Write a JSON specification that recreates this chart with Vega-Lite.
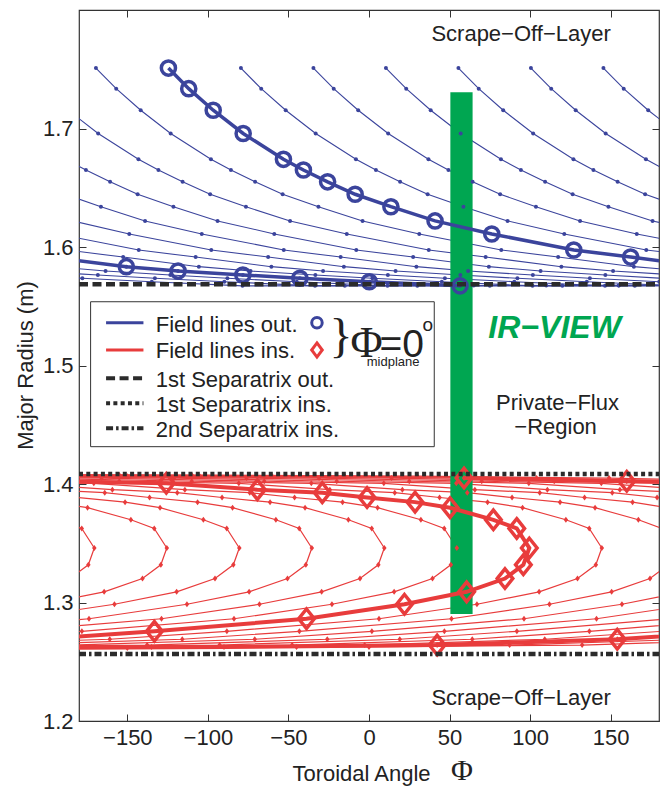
{
"$schema":"https://vega.github.io/schema/vega-lite/v6.json",
"width":580,"height":711,
"autosize":{"type":"none"},
"padding":{"left":79,"top":10,"right":1,"bottom":67},
"background":"white",
"config":{"view":{"stroke":"#333","strokeWidth":1.2}},
"datasets":{
"bt":[
{"c":1,"x":-169.5,"y":1.751},{"c":1,"x":-156.9,"y":1.7336},{"c":1,"x":-141.7,"y":1.7154},{"c":1,"x":-123.1,"y":1.6958},{"c":1,"x":-98.1,"y":1.674},{"c":1,"x":-85.7,"y":1.665},{"c":1,"x":-70.7,"y":1.655},{"c":1,"x":-53.6,"y":1.6445},{"c":1,"x":-31.4,"y":1.634},{"c":1,"x":-4,"y":1.622},{"c":1,"x":31.2,"y":1.611},{"c":1,"x":82.1,"y":1.5975},{"c":1,"x":117.4,"y":1.5915},{"c":1,"x":164.4,"y":1.5834},{"c":1,"x":196.5,"y":1.5797},
{"c":2,"x":-79.5,"y":1.751},{"c":2,"x":-66.9,"y":1.7336},{"c":2,"x":-51.7,"y":1.7154},{"c":2,"x":-33.1,"y":1.6958},{"c":2,"x":-8.1,"y":1.674},{"c":2,"x":4.3,"y":1.665},{"c":2,"x":19.3,"y":1.655},{"c":2,"x":36.4,"y":1.6445},{"c":2,"x":58.6,"y":1.634},{"c":2,"x":86,"y":1.622},{"c":2,"x":121.2,"y":1.611},{"c":2,"x":172.1,"y":1.5975},{"c":2,"x":207.4,"y":1.5915},
{"c":3,"x":-34.5,"y":1.751},{"c":3,"x":-21.9,"y":1.7336},{"c":3,"x":-6.7,"y":1.7154},{"c":3,"x":11.9,"y":1.6958},{"c":3,"x":36.9,"y":1.674},{"c":3,"x":49.3,"y":1.665},{"c":3,"x":64.3,"y":1.655},{"c":3,"x":81.4,"y":1.6445},{"c":3,"x":103.6,"y":1.634},{"c":3,"x":131,"y":1.622},{"c":3,"x":166.2,"y":1.611},{"c":3,"x":217.1,"y":1.5975},
{"c":4,"x":10.5,"y":1.751},{"c":4,"x":23.1,"y":1.7336},{"c":4,"x":38.3,"y":1.7154},{"c":4,"x":56.9,"y":1.6958},{"c":4,"x":81.9,"y":1.674},{"c":4,"x":94.3,"y":1.665},{"c":4,"x":109.3,"y":1.655},{"c":4,"x":126.4,"y":1.6445},{"c":4,"x":148.6,"y":1.634},{"c":4,"x":176,"y":1.622},{"c":4,"x":211.2,"y":1.611},
{"c":5,"x":55.5,"y":1.751},{"c":5,"x":68.1,"y":1.7336},{"c":5,"x":83.3,"y":1.7154},{"c":5,"x":101.9,"y":1.6958},{"c":5,"x":126.9,"y":1.674},{"c":5,"x":139.3,"y":1.665},{"c":5,"x":154.3,"y":1.655},{"c":5,"x":171.4,"y":1.6445},{"c":5,"x":193.6,"y":1.634},
{"c":6,"x":100.5,"y":1.751},{"c":6,"x":113.1,"y":1.7336},{"c":6,"x":128.3,"y":1.7154},{"c":6,"x":146.9,"y":1.6958},{"c":6,"x":171.9,"y":1.674},{"c":6,"x":184.3,"y":1.665},
{"c":7,"x":145.5,"y":1.751},{"c":7,"x":158.1,"y":1.7336},{"c":7,"x":173.3,"y":1.7154},{"c":7,"x":191.9,"y":1.6958},
{"c":8,"x":-186.7,"y":1.7154},{"c":8,"x":-168.1,"y":1.6958},{"c":8,"x":-143.1,"y":1.674},{"c":8,"x":-130.7,"y":1.665},{"c":8,"x":-115.7,"y":1.655},{"c":8,"x":-98.6,"y":1.6445},{"c":8,"x":-76.4,"y":1.634},{"c":8,"x":-49,"y":1.622},{"c":8,"x":-13.8,"y":1.611},{"c":8,"x":37.1,"y":1.5975},{"c":8,"x":72.4,"y":1.5915},{"c":8,"x":119.4,"y":1.5834},{"c":8,"x":151.5,"y":1.5797},{"c":8,"x":191.7,"y":1.5764},
{"c":9,"x":-188.1,"y":1.674},{"c":9,"x":-175.7,"y":1.665},{"c":9,"x":-160.7,"y":1.655},{"c":9,"x":-143.6,"y":1.6445},{"c":9,"x":-121.4,"y":1.634},{"c":9,"x":-94,"y":1.622},{"c":9,"x":-58.8,"y":1.611},{"c":9,"x":-7.9,"y":1.5975},{"c":9,"x":27.4,"y":1.5915},{"c":9,"x":74.4,"y":1.5834},{"c":9,"x":106.5,"y":1.5797},{"c":9,"x":146.7,"y":1.5764},{"c":9,"x":182.1,"y":1.5736},
{"c":10,"x":-188.6,"y":1.6445},{"c":10,"x":-166.4,"y":1.634},{"c":10,"x":-139,"y":1.622},{"c":10,"x":-103.8,"y":1.611},{"c":10,"x":-52.9,"y":1.5975},{"c":10,"x":-17.6,"y":1.5915},{"c":10,"x":29.4,"y":1.5834},{"c":10,"x":61.5,"y":1.5797},{"c":10,"x":101.7,"y":1.5764},{"c":10,"x":137.1,"y":1.5736},{"c":10,"x":180.2,"y":1.5707},
{"c":11,"x":-184,"y":1.622},{"c":11,"x":-148.8,"y":1.611},{"c":11,"x":-97.9,"y":1.5975},{"c":11,"x":-62.6,"y":1.5915},{"c":11,"x":-15.6,"y":1.5834},{"c":11,"x":16.5,"y":1.5797},{"c":11,"x":56.7,"y":1.5764},{"c":11,"x":92.1,"y":1.5736},{"c":11,"x":135.2,"y":1.5707},{"c":11,"x":191.5,"y":1.5672},
{"c":12,"x":-193.8,"y":1.611},{"c":12,"x":-142.9,"y":1.5975},{"c":12,"x":-107.6,"y":1.5915},{"c":12,"x":-60.6,"y":1.5834},{"c":12,"x":-28.5,"y":1.5797},{"c":12,"x":11.7,"y":1.5764},{"c":12,"x":47.1,"y":1.5736},{"c":12,"x":90.2,"y":1.5707},{"c":12,"x":146.5,"y":1.5672},{"c":12,"x":210,"y":1.5674},
{"c":13,"x":-187.9,"y":1.5975},{"c":13,"x":-152.6,"y":1.5915},{"c":13,"x":-105.6,"y":1.5834},{"c":13,"x":-73.5,"y":1.5797},{"c":13,"x":-33.3,"y":1.5764},{"c":13,"x":2.1,"y":1.5736},{"c":13,"x":45.2,"y":1.5707},{"c":13,"x":101.5,"y":1.5672},{"c":13,"x":165,"y":1.5674},{"c":13,"x":245,"y":1.5675},
{"c":14,"x":-197.6,"y":1.5915},{"c":14,"x":-150.6,"y":1.5834},{"c":14,"x":-118.5,"y":1.5797},{"c":14,"x":-78.3,"y":1.5764},{"c":14,"x":-42.9,"y":1.5736},{"c":14,"x":0.2,"y":1.5707},{"c":14,"x":56.5,"y":1.5672},{"c":14,"x":120,"y":1.5674},{"c":14,"x":200,"y":1.5675},
{"c":15,"x":-195.6,"y":1.5834},{"c":15,"x":-163.5,"y":1.5797},{"c":15,"x":-123.3,"y":1.5764},{"c":15,"x":-87.9,"y":1.5736},{"c":15,"x":-44.8,"y":1.5707},{"c":15,"x":11.5,"y":1.5672},{"c":15,"x":75,"y":1.5674},{"c":15,"x":155,"y":1.5675},{"c":15,"x":245,"y":1.5676},
{"c":16,"x":-208.5,"y":1.5797},{"c":16,"x":-168.3,"y":1.5764},{"c":16,"x":-132.9,"y":1.5736},{"c":16,"x":-89.8,"y":1.5707},{"c":16,"x":-33.5,"y":1.5672},{"c":16,"x":30,"y":1.5674},{"c":16,"x":110,"y":1.5675},{"c":16,"x":200,"y":1.5676},
{"c":17,"x":-213.3,"y":1.5764},{"c":17,"x":-177.9,"y":1.5736},{"c":17,"x":-134.8,"y":1.5707},{"c":17,"x":-78.5,"y":1.5672},{"c":17,"x":-15,"y":1.5674},{"c":17,"x":65,"y":1.5675},{"c":17,"x":155,"y":1.5676},{"c":17,"x":265,"y":1.5676}
],
"bk":[
{"c":"m","x":-124.5,"y":1.751},{"c":"m","x":-111.9,"y":1.7336},{"c":"m","x":-96.7,"y":1.7154},{"c":"m","x":-78.1,"y":1.6958},{"c":"m","x":-53.1,"y":1.674},{"c":"m","x":-40.7,"y":1.665},{"c":"m","x":-25.7,"y":1.655},{"c":"m","x":-8.6,"y":1.6445},{"c":"m","x":13.6,"y":1.634},{"c":"m","x":41,"y":1.622},{"c":"m","x":76.2,"y":1.611},{"c":"m","x":127.1,"y":1.5975},{"c":"m","x":162.4,"y":1.5915},{"c":"m","x":209.4,"y":1.5834},
{"c":"w","x":-197.6,"y":1.5915},{"c":"w","x":-150.6,"y":1.5834},{"c":"w","x":-118.5,"y":1.5797},{"c":"w","x":-78.3,"y":1.5764},{"c":"w","x":-42.9,"y":1.5736},{"c":"w","x":0.2,"y":1.5707},{"c":"w","x":56.5,"y":1.5672}
],
"rt":[
{"c":1,"i":1,"x":-192.8,"y":1.3698},{"c":1,"i":2,"x":-178.3,"y":1.3625},{"c":1,"i":3,"x":-170.5,"y":1.346},{"c":1,"i":4,"x":-174.2,"y":1.3318},{"c":1,"i":5,"x":-185.6,"y":1.3202},
{"c":2,"i":1,"x":-196.4,"y":1.3847},{"c":2,"i":2,"x":-174.7,"y":1.38},{"c":2,"i":3,"x":-147.8,"y":1.3698},{"c":2,"i":4,"x":-133.3,"y":1.3625},{"c":2,"i":5,"x":-125.5,"y":1.346},{"c":2,"i":6,"x":-129.2,"y":1.3318},{"c":2,"i":7,"x":-140.6,"y":1.3202},{"c":2,"i":8,"x":-164.4,"y":1.309},{"c":2,"i":9,"x":-203,"y":1.2985},
{"c":3,"i":1,"x":-181.2,"y":1.3886},{"c":3,"i":2,"x":-151.4,"y":1.3847},{"c":3,"i":3,"x":-129.7,"y":1.38},{"c":3,"i":4,"x":-102.8,"y":1.3698},{"c":3,"i":5,"x":-88.3,"y":1.3625},{"c":3,"i":6,"x":-80.5,"y":1.346},{"c":3,"i":7,"x":-84.2,"y":1.3318},{"c":3,"i":8,"x":-95.6,"y":1.3202},{"c":3,"i":9,"x":-119.4,"y":1.309},{"c":3,"i":10,"x":-158,"y":1.2985},{"c":3,"i":11,"x":-218.8,"y":1.2863},
{"c":4,"i":1,"x":-204.3,"y":1.3952},{"c":4,"i":2,"x":-164,"y":1.3927},{"c":4,"i":3,"x":-136.2,"y":1.3886},{"c":4,"i":4,"x":-106.4,"y":1.3847},{"c":4,"i":5,"x":-84.7,"y":1.38},{"c":4,"i":6,"x":-57.8,"y":1.3698},{"c":4,"i":7,"x":-43.3,"y":1.3625},{"c":4,"i":8,"x":-35.5,"y":1.346},{"c":4,"i":9,"x":-39.2,"y":1.3318},{"c":4,"i":10,"x":-50.6,"y":1.3202},{"c":4,"i":11,"x":-74.4,"y":1.309},{"c":4,"i":12,"x":-113,"y":1.2985},{"c":4,"i":13,"x":-173.8,"y":1.2863},{"c":4,"i":14,"x":-268.2,"y":1.2757},
{"c":5,"i":1,"x":-215.8,"y":1.4006},{"c":5,"i":2,"x":-159.3,"y":1.3952},{"c":5,"i":3,"x":-119,"y":1.3927},{"c":5,"i":4,"x":-91.2,"y":1.3886},{"c":5,"i":5,"x":-61.4,"y":1.3847},{"c":5,"i":6,"x":-39.7,"y":1.38},{"c":5,"i":7,"x":-12.8,"y":1.3698},{"c":5,"i":8,"x":1.7,"y":1.3625},{"c":5,"i":9,"x":9.5,"y":1.346},{"c":5,"i":10,"x":5.8,"y":1.3318},{"c":5,"i":11,"x":-5.6,"y":1.3202},{"c":5,"i":12,"x":-29.4,"y":1.309},{"c":5,"i":13,"x":-68,"y":1.2985},{"c":5,"i":14,"x":-128.8,"y":1.2863},{"c":5,"i":15,"x":-223.2,"y":1.2757},
{"c":6,"i":1,"x":-245,"y":1.4023},{"c":6,"i":2,"x":-170.8,"y":1.4006},{"c":6,"i":3,"x":-114.3,"y":1.3952},{"c":6,"i":4,"x":-74,"y":1.3927},{"c":6,"i":5,"x":-46.2,"y":1.3886},{"c":6,"i":6,"x":-16.4,"y":1.3847},{"c":6,"i":7,"x":5.3,"y":1.38},{"c":6,"i":8,"x":32.2,"y":1.3698},{"c":6,"i":9,"x":46.7,"y":1.3625},{"c":6,"i":10,"x":54.5,"y":1.346},{"c":6,"i":11,"x":50.8,"y":1.3318},{"c":6,"i":12,"x":39.4,"y":1.3202},{"c":6,"i":13,"x":15.6,"y":1.309},{"c":6,"i":14,"x":-23,"y":1.2985},{"c":6,"i":15,"x":-83.8,"y":1.2863},{"c":6,"i":16,"x":-178.2,"y":1.2757},{"c":6,"i":17,"x":-250.9,"y":1.269},
{"c":7,"i":1,"x":-256,"y":1.405},{"c":7,"i":2,"x":-155,"y":1.4023},{"c":7,"i":3,"x":-80.8,"y":1.4006},{"c":7,"i":4,"x":-24.3,"y":1.3952},{"c":7,"i":5,"x":16,"y":1.3927},{"c":7,"i":6,"x":43.8,"y":1.3886},{"c":7,"i":7,"x":73.6,"y":1.3847},{"c":7,"i":8,"x":95.3,"y":1.38},{"c":7,"i":9,"x":122.2,"y":1.3698},{"c":7,"i":10,"x":136.7,"y":1.3625},{"c":7,"i":11,"x":144.5,"y":1.346},{"c":7,"i":12,"x":140.8,"y":1.3318},{"c":7,"i":13,"x":129.4,"y":1.3202},{"c":7,"i":14,"x":105.6,"y":1.309},{"c":7,"i":15,"x":67,"y":1.2985},{"c":7,"i":16,"x":6.2,"y":1.2863},{"c":7,"i":17,"x":-88.2,"y":1.2757},{"c":7,"i":18,"x":-160.9,"y":1.269},{"c":7,"i":19,"x":-272.7,"y":1.2641},
{"c":8,"i":1,"x":-211,"y":1.405},{"c":8,"i":2,"x":-110,"y":1.4023},{"c":8,"i":3,"x":-35.8,"y":1.4006},{"c":8,"i":4,"x":20.7,"y":1.3952},{"c":8,"i":5,"x":61,"y":1.3927},{"c":8,"i":6,"x":88.8,"y":1.3886},{"c":8,"i":7,"x":118.6,"y":1.3847},{"c":8,"i":8,"x":140.3,"y":1.38},{"c":8,"i":9,"x":167.2,"y":1.3698},{"c":8,"i":10,"x":181.7,"y":1.3625},{"c":8,"i":11,"x":189.5,"y":1.346},{"c":8,"i":12,"x":185.8,"y":1.3318},{"c":8,"i":13,"x":174.4,"y":1.3202},{"c":8,"i":14,"x":150.6,"y":1.309},{"c":8,"i":15,"x":112,"y":1.2985},{"c":8,"i":16,"x":51.2,"y":1.2863},{"c":8,"i":17,"x":-43.2,"y":1.2757},{"c":8,"i":18,"x":-115.9,"y":1.269},{"c":8,"i":19,"x":-227.7,"y":1.2641},
{"c":9,"i":1,"x":-285,"y":1.4066},{"c":9,"i":2,"x":-166,"y":1.405},{"c":9,"i":3,"x":-65,"y":1.4023},{"c":9,"i":4,"x":9.2,"y":1.4006},{"c":9,"i":5,"x":65.7,"y":1.3952},{"c":9,"i":6,"x":106,"y":1.3927},{"c":9,"i":7,"x":133.8,"y":1.3886},{"c":9,"i":8,"x":163.6,"y":1.3847},{"c":9,"i":9,"x":185.3,"y":1.38},{"c":9,"i":10,"x":195.6,"y":1.309},{"c":9,"i":11,"x":157,"y":1.2985},{"c":9,"i":12,"x":96.2,"y":1.2863},{"c":9,"i":13,"x":1.8,"y":1.2757},{"c":9,"i":14,"x":-70.9,"y":1.269},{"c":9,"i":15,"x":-182.7,"y":1.2641},
{"c":10,"i":1,"x":-240,"y":1.4066},{"c":10,"i":2,"x":-121,"y":1.405},{"c":10,"i":3,"x":-20,"y":1.4023},{"c":10,"i":4,"x":54.2,"y":1.4006},{"c":10,"i":5,"x":110.7,"y":1.3952},{"c":10,"i":6,"x":151,"y":1.3927},{"c":10,"i":7,"x":178.8,"y":1.3886},{"c":10,"i":8,"x":208.6,"y":1.3847},{"c":10,"i":9,"x":202,"y":1.2985},{"c":10,"i":10,"x":141.2,"y":1.2863},{"c":10,"i":11,"x":46.8,"y":1.2757},{"c":10,"i":12,"x":-25.9,"y":1.269},{"c":10,"i":13,"x":-137.7,"y":1.2641},{"c":10,"i":14,"x":-270,"y":1.2625},
{"c":11,"i":1,"x":-195,"y":1.4066},{"c":11,"i":2,"x":-76,"y":1.405},{"c":11,"i":3,"x":25,"y":1.4023},{"c":11,"i":4,"x":99.2,"y":1.4006},{"c":11,"i":5,"x":155.7,"y":1.3952},{"c":11,"i":6,"x":196,"y":1.3927},{"c":11,"i":7,"x":186.2,"y":1.2863},{"c":11,"i":8,"x":91.8,"y":1.2757},{"c":11,"i":9,"x":19.1,"y":1.269},{"c":11,"i":10,"x":-92.7,"y":1.2641},{"c":11,"i":11,"x":-225,"y":1.2625},
{"c":12,"i":1,"x":-290,"y":1.4076},{"c":12,"i":2,"x":-150,"y":1.4066},{"c":12,"i":3,"x":-31,"y":1.405},{"c":12,"i":4,"x":70,"y":1.4023},{"c":12,"i":5,"x":144.2,"y":1.4006},{"c":12,"i":6,"x":200.7,"y":1.3952},{"c":12,"i":7,"x":231.2,"y":1.2863},{"c":12,"i":8,"x":136.8,"y":1.2757},{"c":12,"i":9,"x":64.1,"y":1.269},{"c":12,"i":10,"x":-47.7,"y":1.2641},{"c":12,"i":11,"x":-180,"y":1.2625},{"c":12,"i":12,"x":-330,"y":1.2615},
{"c":13,"i":1,"x":-245,"y":1.4076},{"c":13,"i":2,"x":-105,"y":1.4066},{"c":13,"i":3,"x":14,"y":1.405},{"c":13,"i":4,"x":115,"y":1.4023},{"c":13,"i":5,"x":189.2,"y":1.4006},{"c":13,"i":6,"x":181.8,"y":1.2757},{"c":13,"i":7,"x":109.1,"y":1.269},{"c":13,"i":8,"x":-2.7,"y":1.2641},{"c":13,"i":9,"x":-135,"y":1.2625},{"c":13,"i":10,"x":-285,"y":1.2615},
{"c":14,"i":1,"x":-200,"y":1.4076},{"c":14,"i":2,"x":-60,"y":1.4066},{"c":14,"i":3,"x":59,"y":1.405},{"c":14,"i":4,"x":160,"y":1.4023},{"c":14,"i":5,"x":234.2,"y":1.4006},{"c":14,"i":6,"x":226.8,"y":1.2757},{"c":14,"i":7,"x":154.1,"y":1.269},{"c":14,"i":8,"x":42.3,"y":1.2641},{"c":14,"i":9,"x":-90,"y":1.2625},{"c":14,"i":10,"x":-240,"y":1.2615},
{"c":15,"i":1,"x":-315,"y":1.408},{"c":15,"i":2,"x":-155,"y":1.4076},{"c":15,"i":3,"x":-15,"y":1.4066},{"c":15,"i":4,"x":104,"y":1.405},{"c":15,"i":5,"x":205,"y":1.4023},{"c":15,"i":6,"x":199.1,"y":1.269},{"c":15,"i":7,"x":87.3,"y":1.2641},{"c":15,"i":8,"x":-45,"y":1.2625},{"c":15,"i":9,"x":-195,"y":1.2615},
{"c":16,"i":1,"x":-270,"y":1.408},{"c":16,"i":2,"x":-110,"y":1.4076},{"c":16,"i":3,"x":30,"y":1.4066},{"c":16,"i":4,"x":149,"y":1.405},{"c":16,"i":5,"x":250,"y":1.4023},{"c":16,"i":6,"x":244.1,"y":1.269},{"c":16,"i":7,"x":132.3,"y":1.2641},{"c":16,"i":8,"x":0,"y":1.2625},{"c":16,"i":9,"x":-150,"y":1.2615},{"c":16,"i":10,"x":-330,"y":1.2608}
],
"rk":[
{"c":"A","i":1,"x":-200,"y":1.4023,"m":0},{"c":"A","i":2,"x":-125.8,"y":1.4006,"m":1},{"c":"A","i":3,"x":-69.3,"y":1.3952,"m":1},{"c":"A","i":4,"x":-29,"y":1.3927,"m":1},{"c":"A","i":5,"x":-1.2,"y":1.3886,"m":1},{"c":"A","i":6,"x":28.6,"y":1.3847,"m":1},{"c":"A","i":7,"x":50.3,"y":1.38,"m":1},{"c":"A","i":8,"x":77.2,"y":1.3698,"m":1},{"c":"A","i":9,"x":91.7,"y":1.3625,"m":1},{"c":"A","i":10,"x":99.5,"y":1.346,"m":1},{"c":"A","i":11,"x":95.8,"y":1.3318,"m":1},{"c":"A","i":12,"x":84.4,"y":1.3202,"m":1},{"c":"A","i":13,"x":60.6,"y":1.309,"m":1},{"c":"A","i":14,"x":22,"y":1.2985,"m":1},{"c":"A","i":15,"x":-38.8,"y":1.2863,"m":1},{"c":"A","i":16,"x":-133.2,"y":1.2757,"m":1},{"c":"A","i":17,"x":-205.9,"y":1.269,"m":0},
{"c":"B","i":1,"x":59,"y":1.405,"m":1},{"c":"B","i":2,"x":160,"y":1.4023,"m":1},{"c":"B","i":3,"x":234.2,"y":1.4006,"m":0},
{"c":"C","i":1,"x":226.8,"y":1.2757,"m":0},{"c":"C","i":2,"x":154.1,"y":1.269,"m":1},{"c":"C","i":3,"x":42.3,"y":1.2641,"m":1},{"c":"C","i":4,"x":-90,"y":1.2625,"m":0},{"c":"C","i":5,"x":-240,"y":1.2615,"m":0}
]
},
"layer":[
{
"encoding":{
"x":{"field":"x","type":"quantitative","scale":{"domain":[-180,180],"nice":false,"zero":false},
"axis":{"orient":"bottom","values":[-150,-100,-50,0,50,100,150],"tickSize":-7,"tickColor":"#333","domain":false,"grid":false,"labelFont":"Liberation Sans","labelFontSize":22,"labelColor":"#222","labelPadding":13,"labelFlush":false,"title":"Toroidal Angle","titleFont":"Liberation Sans","titleFontSize":22,"titleFontWeight":"normal","titleColor":"#222","titleX":282,"titleY":59,"titleBaseline":"alphabetic"}},
"y":{"field":"y","type":"quantitative","scale":{"domain":[1.2,1.8],"nice":false,"zero":false},
"axis":{"orient":"left","values":[1.2,1.3,1.4,1.5,1.6,1.7],"format":".1f","tickSize":-7,"tickColor":"#333","domain":false,"grid":false,"labelFont":"Liberation Sans","labelFontSize":22,"labelColor":"#222","labelPadding":13,"labelFlush":false,"title":"Major Radius (m)","titleFont":"Liberation Sans","titleFontSize":22,"titleFontWeight":"normal","titleColor":"#222","titleX":-42,"titleY":355,"titleAngle":270,"titleBaseline":"bottom","titleAlign":"center"}}
},
"layer":[
{"data":{"name":"bt"},"mark":{"type":"line","color":"#3b449c","strokeWidth":1.1,"clip":true},"encoding":{"detail":{"field":"c"}}},
{"data":{"name":"rt"},"mark":{"type":"line","color":"#e83c3c","strokeWidth":1.2,"clip":true},"encoding":{"detail":{"field":"c"},"order":{"field":"i","type":"quantitative"}}},
{"data":{"values":[{"x":50.5,"x2":64.3,"y":1.2903,"y2":1.7305}]},"mark":{"type":"rect","color":"#00a651"},"encoding":{"x2":{"field":"x2"},"y2":{"field":"y2"}}},
{"data":{"name":"bt"},"mark":{"type":"point","shape":"circle","filled":true,"size":16,"color":"#3b449c","opacity":1,"clip":true}},
{"data":{"name":"rt"},"mark":{"type":"point","shape":"M0,-1L0.75,0L0,1L-0.75,0Z","filled":true,"size":36,"color":"#e83c3c","opacity":1,"clip":true}},
{"data":{"name":"bk"},"mark":{"type":"line","color":"#3b449c","strokeWidth":3.5,"clip":true},"encoding":{"detail":{"field":"c"}}},
{"data":{"name":"rk"},"mark":{"type":"line","color":"#e83c3c","strokeWidth":4,"clip":true},"encoding":{"detail":{"field":"c"},"order":{"field":"i","type":"quantitative"}}},
{"data":{"name":"bk"},"mark":{"type":"point","shape":"circle","filled":false,"size":200,"strokeWidth":3.5,"color":"#3b449c","opacity":1,"clip":true}},
{"data":{"name":"rk"},"transform":[{"filter":{"field":"m","equal":1}}],"mark":{"type":"point","shape":"M0,-1L0.8,0L0,1L-0.8,0Z","filled":false,"size":380,"strokeWidth":3.5,"color":"#e83c3c","opacity":1,"clip":true}},
{"data":{"values":[{"x":-180,"x2":180,"y":1.5685}]},"mark":{"type":"rule","color":"#2b2b2b","strokeWidth":4.5,"strokeDash":[9,4.5]},"encoding":{"x2":{"field":"x2"}}},
{"data":{"values":[{"x":-180,"x2":180,"y":1.4084}]},"mark":{"type":"rule","color":"#2b2b2b","strokeWidth":4.5,"strokeDash":[4,3.3]},"encoding":{"x2":{"field":"x2"}}},
{"data":{"values":[{"x":-180,"x2":180,"y":1.2565}]},"mark":{"type":"rule","color":"#2b2b2b","strokeWidth":4.5,"strokeDash":[7,3,2.5,3]},"encoding":{"x2":{"field":"x2"}}},
{"data":{"values":[{"x":-172.8,"x2":40.5,"y":1.4315,"y2":1.5538}]},"mark":{"type":"rect","fill":"white","stroke":"#333","strokeWidth":1},"encoding":{"x2":{"field":"x2"},"y2":{"field":"y2"}}},
{"data":{"values":[{"x":-163.2,"x2":-140,"y":1.5361}]},"mark":{"type":"rule","color":"#3b449c","strokeWidth":3},"encoding":{"x2":{"field":"x2"}}},
{"data":{"values":[{"x":-163.2,"x2":-140,"y":1.5131}]},"mark":{"type":"rule","color":"#e83c3c","strokeWidth":3},"encoding":{"x2":{"field":"x2"}}},
{"data":{"values":[{"x":-163.2,"x2":-140,"y":1.4892}]},"mark":{"type":"rule","color":"#2b2b2b","strokeWidth":4,"strokeDash":[9,4.5]},"encoding":{"x2":{"field":"x2"}}},
{"data":{"values":[{"x":-163.2,"x2":-140,"y":1.4681}]},"mark":{"type":"rule","color":"#2b2b2b","strokeWidth":4,"strokeDash":[4,3.3]},"encoding":{"x2":{"field":"x2"}}},
{"data":{"values":[{"x":-163.2,"x2":-140,"y":1.447}]},"mark":{"type":"rule","color":"#2b2b2b","strokeWidth":4,"strokeDash":[7,3,2.5,3]},"encoding":{"x2":{"field":"x2"}}},
{"data":{"values":[{"x":-32.3,"y":1.5361}]},"mark":{"type":"point","shape":"circle","filled":false,"size":110,"strokeWidth":3,"color":"#3b449c","opacity":1}},
{"data":{"values":[{"x":-32.3,"y":1.5131}]},"mark":{"type":"point","shape":"M0,-1L0.75,0L0,1L-0.75,0Z","filled":false,"size":200,"strokeWidth":3,"color":"#e83c3c","opacity":1}},
{"data":{"values":[{"x":94.4,"y":1.7738,"t":"Scrape−Off−Layer"},{"x":117,"y":1.4624,"t":"Private−Flux"},{"x":115.8,"y":1.4419,"t":"−Region"},{"x":94.4,"y":1.2135,"t":"Scrape−Off−Layer"}]},"mark":{"type":"text","font":"Liberation Sans","fontSize":22,"align":"center","baseline":"alphabetic","color":"#222"},"encoding":{"text":{"field":"t"}}},
{"data":{"values":[{"x":-132.4,"y":1.5285,"t":"Field lines out."},{"x":-132.4,"y":1.5061,"t":"Field lines ins."},{"x":-132.4,"y":1.4821,"t":"1st Separatrix out."},{"x":-132.4,"y":1.461,"t":"1st Separatrix ins."},{"x":-132.4,"y":1.4399,"t":"2nd Separatrix ins."}]},"mark":{"type":"text","font":"Liberation Sans","fontSize":22,"align":"left","baseline":"alphabetic","color":"#222"},"encoding":{"text":{"field":"t"}}},
{"data":{"values":[{"x":115.2,"y":1.523,"t":"IR−VIEW"}]},"mark":{"type":"text","font":"Liberation Sans","fontSize":32,"fontWeight":"bold","fontStyle":"italic","align":"center","baseline":"alphabetic","color":"#00a651"},"encoding":{"text":{"field":"t"}}},
{"data":{"values":[{"x":-17.4,"y":1.5236,"t":"}"}]},"mark":{"type":"text","font":"Liberation Serif","fontSize":48,"align":"center","baseline":"middle","color":"#222"},"encoding":{"text":{"field":"t"}}},
{"data":{"values":[{"x":-1.5,"y":1.5072,"t":"Φ"}]},"mark":{"type":"text","font":"Liberation Serif","fontSize":44,"align":"center","baseline":"alphabetic","color":"#222"},"encoding":{"text":{"field":"t"}}},
{"data":{"values":[{"x":6.5,"y":1.5072,"t":"=0"}]},"mark":{"type":"text","font":"Liberation Sans","fontSize":39,"align":"left","baseline":"alphabetic","color":"#222"},"encoding":{"text":{"field":"t"}}},
{"data":{"values":[{"x":36.5,"y":1.5338,"t":"o"}]},"mark":{"type":"text","font":"Liberation Sans","fontSize":19,"align":"center","baseline":"middle","color":"#222"},"encoding":{"text":{"field":"t"}}},
{"data":{"values":[{"x":15,"y":1.5028,"t":"midplane"}]},"mark":{"type":"text","font":"Liberation Sans","fontSize":13,"align":"center","baseline":"middle","color":"#222"},"encoding":{"text":{"field":"t"}}},
{"data":{"values":[{"x":57.7,"y":1.1575,"t":"Φ"}]},"mark":{"type":"text","font":"Liberation Serif","fontSize":30,"align":"center","baseline":"middle","color":"#222"},"encoding":{"text":{"field":"t"}}}
]
},
{"data":{"values":[{"x":0,"y":1.5}]},"mark":{"type":"point","opacity":0},
"encoding":{
"x":{"field":"x","type":"quantitative","scale":{"domain":[-180,180],"nice":false,"zero":false},"axis":{"orient":"top","values":[-150,-100,-50,0,50,100,150],"tickSize":-7,"tickColor":"#333","labels":false,"domain":false,"grid":false,"title":null}},
"y":{"field":"y","type":"quantitative","scale":{"domain":[1.2,1.8],"nice":false,"zero":false},"axis":{"orient":"right","values":[1.2,1.3,1.4,1.5,1.6,1.7],"tickSize":-7,"tickColor":"#333","labels":false,"domain":false,"grid":false,"title":null}}
}}
],
"resolve":{"axis":{"x":"independent","y":"independent"}}
}
